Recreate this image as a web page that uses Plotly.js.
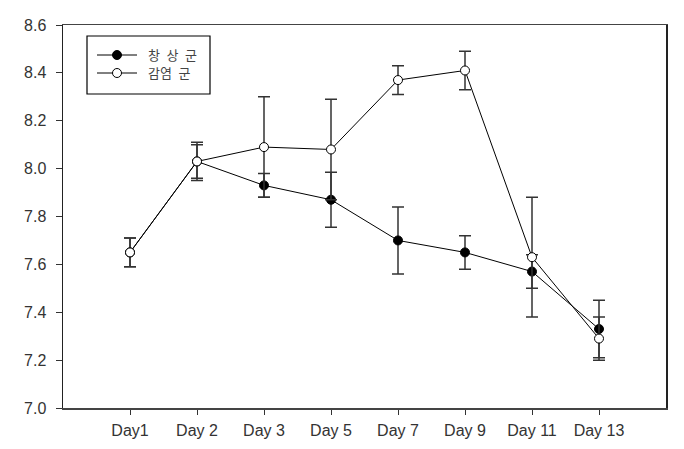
<!DOCTYPE html>
<html>
<head>
<meta charset="utf-8">
<script src="https://cdn.plot.ly/plotly-3.0.1.min.js"></script>
<style>html,body{margin:0;padding:0;background:#fff;}#chart{width:684px;height:449px;}</style>
</head>
<body>
<div id="chart"></div>
<script>
const categories = ["Day1", "Day 2", "Day 3", "Day 5", "Day 7", "Day 9", "Day 11", "Day 13"];
const tickPositions = [1, 2, 3, 4, 5, 6, 7, 8];
const normalName = "창 상 군";
const normalValues = [7.65, 8.03, 7.93, 7.87, 7.70, 7.65, 7.57, 7.33];
const normalErrors = [0.06, 0.07, 0.05, 0.115, 0.14, 0.07, 0.07, 0.12];
const infectedName = "감염 군";
const infectedValues = [7.65, 8.03, 8.09, 8.08, 8.37, 8.41, 7.63, 7.29];
const infectedErrors = [0.06, 0.08, 0.21, 0.21, 0.06, 0.08, 0.25, 0.09];
const yTicks = [7.0, 7.2, 7.4, 7.6, 7.8, 8.0, 8.2, 8.4, 8.6];

// plot-area geometry (pixels) used to place the hand-drawn legend
const L = 63, T = 25, W = 603, H = 383;
const px = v => (v - L) / W;
const py = v => 1 - (v - T) / H;

const errStyle = {type: "data", visible: true, color: "#333333", thickness: 1.5, width: 6};

const traces = [
  {
    x: tickPositions, y: normalValues, name: normalName, type: "scatter", mode: "lines+markers",
    line: {color: "#000000", width: 1},
    marker: {symbol: "circle", size: 9, color: "#000000", line: {color: "#000000", width: 1}},
    error_y: Object.assign({array: normalErrors}, errStyle)
  },
  {
    x: tickPositions, y: infectedValues, name: infectedName, type: "scatter", mode: "lines+markers",
    line: {color: "#000000", width: 1},
    marker: {symbol: "circle", size: 9, color: "#ffffff", line: {color: "#000000", width: 1}},
    error_y: Object.assign({array: infectedErrors}, errStyle)
  }
];

// legend (box, sample lines, markers, labels)
const legendRows = [
  {y: 55, fill: "#000000", label: normalName.replace(/ /g, "\u2002")},
  {y: 73, fill: "#ffffff", label: infectedName.replace(/ /g, "\u2002")}
];
const shapes = [{
  type: "rect", xref: "paper", yref: "paper",
  x0: px(87), x1: px(210), y0: py(94), y1: py(36),
  line: {color: "#000000", width: 1.2}, fillcolor: "#ffffff", layer: "above"
}];
const annotations = [];
legendRows.forEach(r => {
  shapes.push({type: "line", xref: "paper", yref: "paper",
    x0: px(97), x1: px(137), y0: py(r.y), y1: py(r.y),
    line: {color: "#000000", width: 1}, layer: "above"});
  shapes.push({type: "circle", xref: "paper", yref: "paper",
    x0: px(117 - 4.5), x1: px(117 + 4.5), y0: py(r.y + 4.5), y1: py(r.y - 4.5),
    line: {color: "#000000", width: 1}, fillcolor: r.fill, layer: "above"});
  annotations.push({xref: "paper", yref: "paper", x: px(146), y: py(r.y),
    xanchor: "left", yanchor: "middle", showarrow: false, text: r.label,
    font: {family: "'Noto Sans CJK KR', sans-serif", size: 13, color: "#444444"}});
});

const layout = {
  width: 684, height: 449,
  margin: {l: L, r: 684 - L - W, t: T, b: 449 - T - H, pad: 0},
  paper_bgcolor: "#ffffff", plot_bgcolor: "#ffffff",
  font: {family: "Arial, 'Liberation Sans', sans-serif", size: 16, color: "#333333"},
  showlegend: false,
  shapes: shapes,
  annotations: annotations,
  xaxis: {
    range: [0, 9], tickmode: "array", tickvals: tickPositions, ticktext: categories,
    showgrid: false, zeroline: false,
    showline: true, linecolor: "#444444", linewidth: 1.5, mirror: true,
    ticks: "outside", ticklen: 5, tickwidth: 1, tickcolor: "#333333",
    tickfont: {size: 16, color: "#333333"}, ticklabelstandoff: 2
  },
  yaxis: {
    range: [7.0, 8.6], tickmode: "array", tickvals: yTicks, ticktext: yTicks.map(v => v.toFixed(1)),
    showgrid: false, zeroline: false,
    showline: true, linecolor: "#222222", linewidth: 1.5, mirror: true,
    ticks: "outside", ticklen: 6, tickwidth: 1, tickcolor: "#333333",
    tickfont: {size: 16, color: "#333333"}, ticklabelstandoff: 6
  }
};

Plotly.newPlot("chart", traces, layout, {displayModeBar: false, staticPlot: true});
</script>
</body>
</html>
